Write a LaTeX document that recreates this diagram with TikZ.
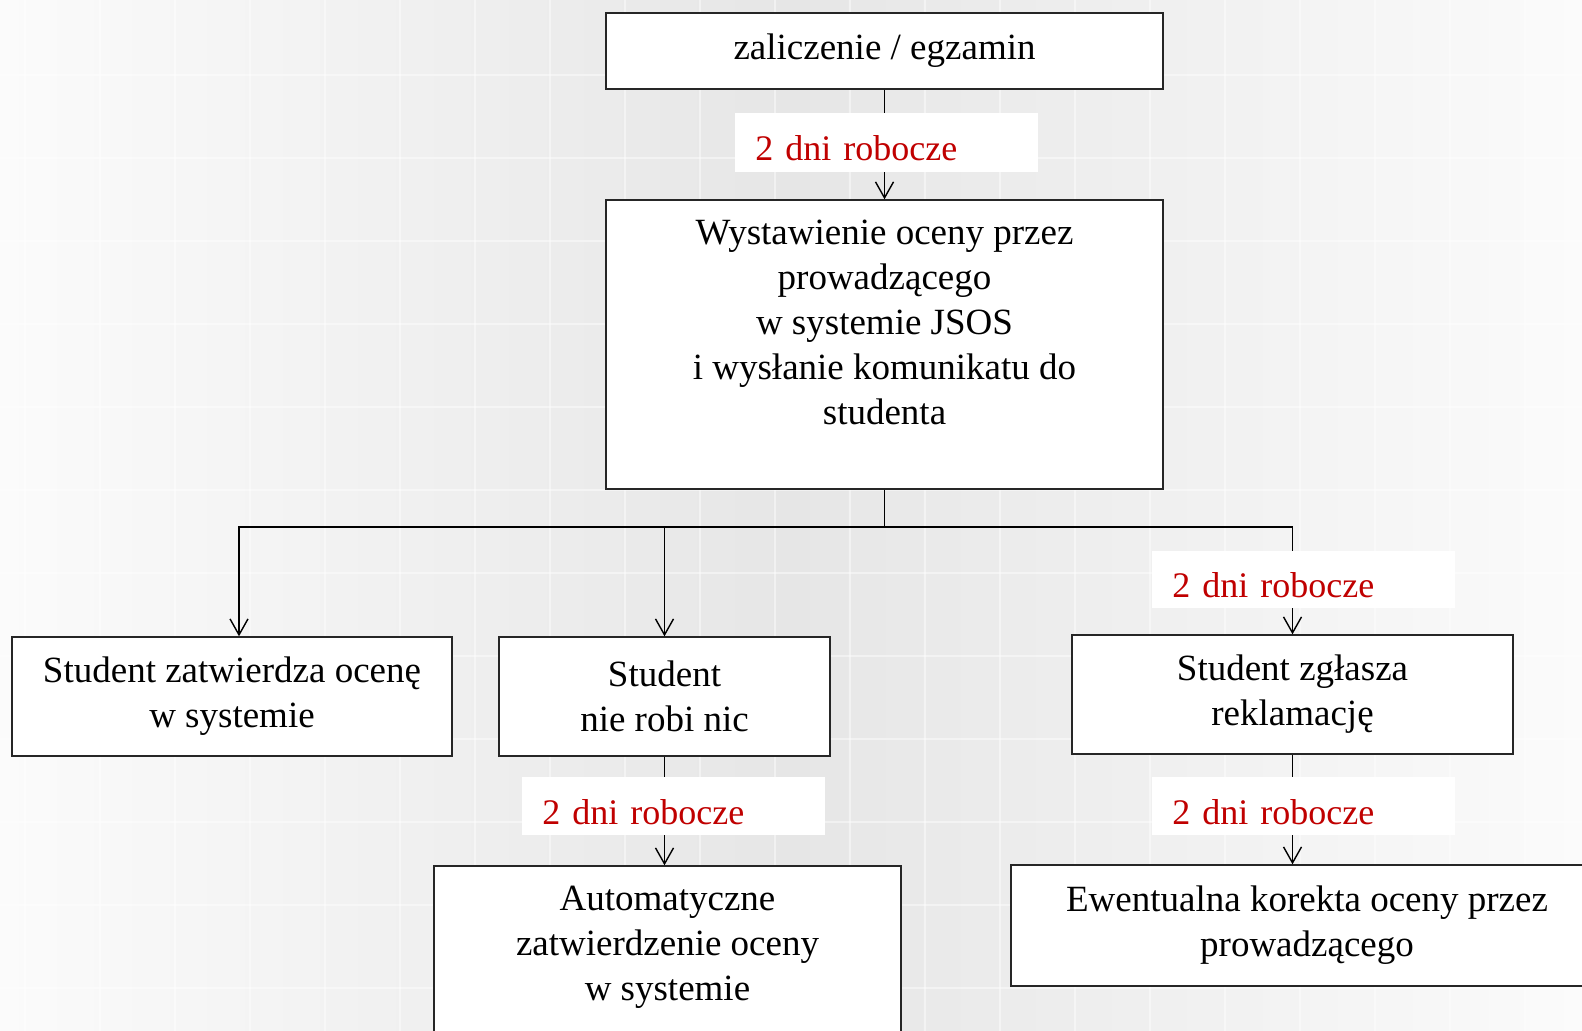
\documentclass[tikz,border=0pt]{standalone}
\usepackage{fontspec}
\setmainfont{Liberation Serif}
\usetikzlibrary{arrows.meta}
\usetikzlibrary{positioning}

\definecolor{daysred}{RGB}{192,0,0}
\definecolor{bgedge}{RGB}{251,251,251}
\definecolor{bgmid}{RGB}{230,230,230}

\tikzset{
  stepbox/.style={draw=black!85, fill=white, line width=0.7pt, align=center, inner sep=0pt},
  daysbox/.style={fill=white, text=daysred, font=\fontsize{18}{22}\selectfont, align=left, text width=131.5pt,
    text height=18pt, text depth=0pt, inner xsep=10pt, inner ysep=0pt, anchor=north west},
  flow/.style={line width=0.7pt, -{Straight Barb[length=8pt,width=9pt]}},
  gridline/.style={white, line width=0.8pt, opacity=0.45},
}

\begin{document}
\begin{tikzpicture}[x=0.5pt, y=-0.5pt, font=\fontsize{18.5}{22.5}\selectfont]
  %--- page and slide background
    \useasboundingbox (0,0) rectangle (1582,1031);
    \clip (0,0) rectangle (1582,1031);
    \shade[left color=bgedge, right color=bgedge, middle color=bgmid] (0,0) rectangle (1582,1031);
    \foreach \gx in {25,100,...,1582} \draw[gridline] (\gx,0) -- (\gx,1031);
    \foreach \gy in {75,158,...,1031} \draw[gridline] (0,\gy) -- (1582,\gy);
  %--- exam
    \node[stepbox, minimum width=278.5pt, minimum height=38pt] (exam) at (884.5,51) {zaliczenie / egzamin};
  %--- grade in JSOS
    \node[stepbox, inner sep=10pt] (grade) at (884.5,344.5)
      {\parbox[c][124.5pt][t]{258.5pt}{\centering Wystawienie oceny przez\\ prowadzącego\\ w systemie JSOS\\ i wysłanie komunikatu do\\ studenta}};
  %--- student reactions
    \node[stepbox, minimum width=220pt, minimum height=59.5pt] (approve) at (232,696.5) {Student zatwierdza ocenę\\ w systemie};
    \node[stepbox, minimum width=165.5pt, minimum height=59.5pt] (idle) at (664.5,696.5) {Student\\ nie robi nic};
    \node[stepbox, minimum width=220.5pt, minimum height=59.5pt] (claim) at (1292.5,694.5) {Student zgłasza\\ reklamację};
  %--- outcomes
    \node[stepbox, inner sep=10pt] (auto) at (667.5,963)
      {\parbox[c][77pt][t]{213.5pt}{\centering Automatyczne\\ zatwierdzenie oceny\\ w systemie}};
    \node[stepbox, minimum width=296pt, minimum height=60.5pt] (fix) at (1307,925.5) {Ewentualna korekta oceny przez\\ prowadzącego};
  %--- connectors
    \coordinate (fork) at (884.5,527);
    \draw[flow] (exam) -- (grade);
    \draw[line width=0.7pt] (grade.south) -- (fork);
    \draw[flow] (fork) -| ([xshift=3.5pt]approve.north);
    \draw[flow] (fork) -| (idle.north);
    \draw[flow] (fork) -| (claim.north);
    \draw[flow] (idle) -- (idle |- auto.north);
    \draw[flow] (claim) -- (claim |- fix.north);
  %--- working days
    \node[daysbox, minimum height=29.5pt] (days1) at (735,113) {2 dni robocze};
    \node[daysbox, minimum height=28.5pt] (days2) at (1152,551) {2 dni robocze};
    \node[daysbox, minimum height=29pt] (days3) at (522,777) {2 dni robocze};
    \node[daysbox, minimum height=29pt] (days4) at (1152,777) {2 dni robocze};
\end{tikzpicture}
\end{document}
